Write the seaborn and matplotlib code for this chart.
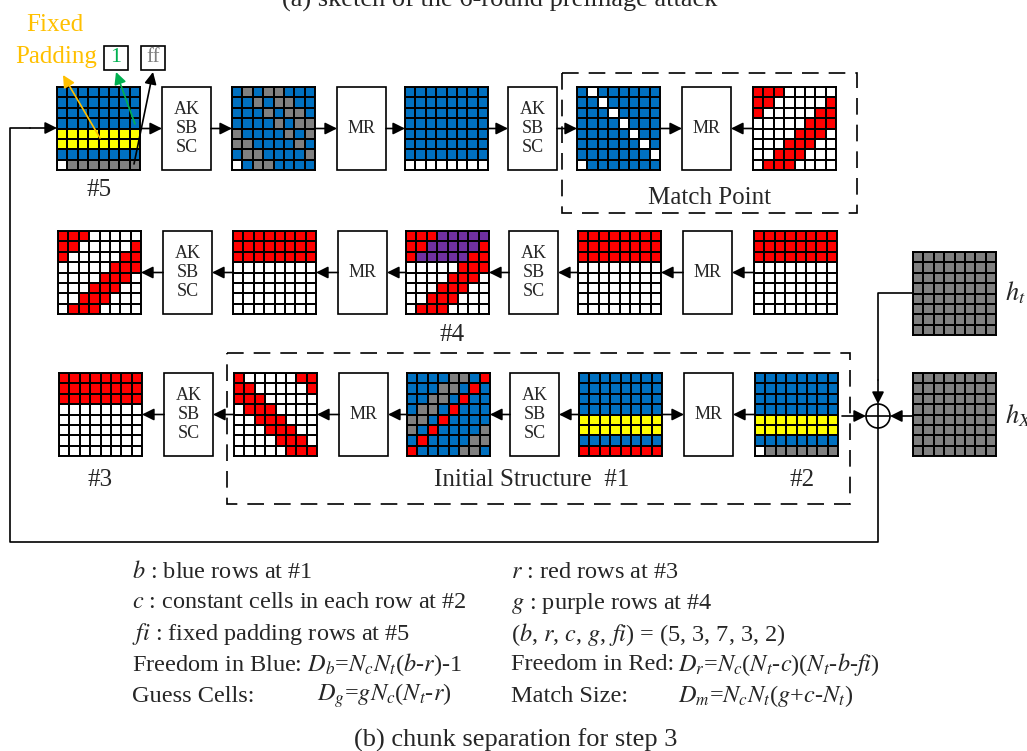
import numpy as np
import matplotlib
matplotlib.use("Agg")
import matplotlib.pyplot as plt
import seaborn as sns
from matplotlib.colors import ListedColormap
from matplotlib.patches import Rectangle, Circle

############################################################################
# DATA: 8x8 states, one letter per cell
# W white, B blue, G gray, Y yellow (fixed padding), R red, P purple
############################################################################

cell_codes = "WBGYRP"
cell_colors = ["#FFFFFF", "#0070C0", "#808080", "#FFFF00", "#FF0000", "#7030A0"]

# row 1 (forward, #5 -> match point)
state_5 = ["BBBBBBBB", "BBBBBBBB", "BBBBBBBB", "BBBBBBBB",
           "YYYYYYYY", "YYYYYYYY", "BBBBBBBB", "WGGGGGGG"]
state_5_sc = ["BGBGGBBB", "BBGBGGBB", "BBBGBGGB", "BBBBGBGG",
              "GBBBBGBG", "GGBBBBGB", "BGGBBBBG", "WBGGBBBB"]
state_5_mr = ["BBBBBBBB", "BBBBBBBB", "BBBBBBBB", "BBBBBBBB",
              "BBBBBBBB", "BBBBBBBB", "BBBBBBBB", "WWWWWWWW"]
state_mp_blue = ["BWBBBBBB", "BBWBBBBB", "BBBWBBBB", "BBBBWBBB",
                 "BBBBBWBB", "BBBBBBWB", "BBBBBBBW", "WBBBBBBB"]
state_mp_red = ["RRRWWWWW", "RRWWWWWR", "RWWWWWRR", "WWWWWRRR",
                "WWWWRRRW", "WWWRRRWW", "WWRRRWWW", "WRRRWWWW"]

# row 2 (backward, #4)
state_4_sc = ["RRRWWWWW", "RRWWWWWR", "RWWWWWRR", "WWWWWRRR",
              "WWWWRRRW", "WWWRRRWW", "WWRRRWWW", "WRRRWWWW"]
state_4_mr = ["RRRRRRRR", "RRRRRRRR", "RRRRRRRR", "WWWWWWWW",
              "WWWWWWWW", "WWWWWWWW", "WWWWWWWW", "WWWWWWWW"]
state_4 = ["RRRPPPPP", "RRPPPPPR", "RPPPPPRR", "WWWWWRRR",
           "WWWWRRRW", "WWWRRRWW", "WWRRRWWW", "WRRRWWWW"]
state_4_in = ["RRRRRRRR", "RRRRRRRR", "RRRRRRRR", "WWWWWWWW",
              "WWWWWWWW", "WWWWWWWW", "WWWWWWWW", "WWWWWWWW"]
state_4_top = ["RRRRRRRR", "RRRRRRRR", "RRRRRRRR", "WWWWWWWW",
               "WWWWWWWW", "WWWWWWWW", "WWWWWWWW", "WWWWWWWW"]

# row 3 (initial structure, #3 #1 #2)
state_3 = ["RRRRRRRR", "RRRRRRRR", "RRRRRRRR", "WWWWWWWW",
           "WWWWWWWW", "WWWWWWWW", "WWWWWWWW", "WWWWWWWW"]
state_1_red = ["RWWWWWRR", "RRWWWWWR", "RRRWWWWW", "WRRRWWWW",
               "WWRRRWWW", "WWWRRRWW", "WWWWRRRW", "WWWWWRRR"]
state_1_sc = ["BBBBGGBR", "BBBGGBRB", "BBGGBRBB", "BGGBRBBB",
              "GGBRBBBB", "GBRBBBBG", "BRBBBBGG", "RBBBBGGB"]
state_1 = ["BBBBBBBB", "BBBBBBBB", "BBBBBBBB", "BBBBBBBB",
           "YYYYYYYY", "YYYYYYYY", "BBBBBBBB", "RRRRRRRR"]
state_2 = ["BBBBBBBB", "BBBBBBBB", "BBBBBBBB", "BBBBBBBB",
           "YYYYYYYY", "YYYYYYYY", "BBBBBBBB", "WGGGGGGG"]

# chaining values
h_t = ["GGGGGGGG"] * 8
h_x = ["GGGGGGGG"] * 8

# chunk separation parameters
b, r, c, g, fi = 5, 3, 7, 3, 2

row_states = [
	[state_5, state_5_sc, state_5_mr, state_mp_blue, state_mp_red],
	[state_4_sc, state_4_mr, state_4, state_4_in, state_4_top],
	[state_3, state_1_red, state_1_sc, state_1, state_2],
]
row_boxes = ["AK\nSB\nSC", "MR", "AK\nSB\nSC", "MR"]
# arrow direction for each gap between the 9 elements of a row
row_dirs = [
	["r", "r", "r", "r", "r", "r", "r", "l"],
	["l", "l", "l", "l", "l", "l", "l", "l"],
	["l", "l", "l", "l", "l", "l", "r", "l"],
]

############################################################################
# LAYOUT (pixels)
############################################################################

W, H = 1027, 751
grid_x = [57, 232, 405, 577, 753]
box_x = [162, 337, 508, 682]
row_top = [87, 231, 373]
row_dx = [0, 1, 2]
gsize = 83
box_w = 49

serif = ["Liberation Serif", "DejaVu Serif"]

def config_sns():
	sns.set_theme(style="white")
	plt.rcParams["font.family"] = serif
	plt.rcParams["mathtext.fontset"] = "stix"

cmap = ListedColormap(cell_colors)

def draw_grid(fig, rows, x, y, size=gsize):
	ax = fig.add_axes([x / W, 1 - (y + size) / H, size / W, size / H])
	data = np.array([[cell_codes.index(ch) for ch in row] for row in rows])
	sns.heatmap(data, ax=ax, cmap=cmap, vmin=-0.5, vmax=5.5, cbar=False,
				linewidths=1.3, linecolor="black",
				xticklabels=False, yticklabels=False)
	for s in ax.spines.values():
		s.set_visible(True)
		s.set_linewidth(1.4)
		s.set_color("black")
	return ax

def arrow(ax, x0, y0, x1, y1, color="black", lw=1.2):
	ax.annotate("", xy=(x1, y1), xytext=(x0, y0),
				arrowprops=dict(arrowstyle="-|>", color=color, lw=lw,
								mutation_scale=18, shrinkA=0, shrinkB=0))

def main():
	config_sns()
	fig = plt.figure(figsize=(W / 100, H / 100), dpi=100)
	fig.patch.set_facecolor("white")

	main_ax = fig.add_axes([0, 0, 1, 1])
	main_ax.set_xlim(0, W)
	main_ax.set_ylim(H, 0)
	main_ax.axis("off")
	main_ax.set_zorder(10)
	main_ax.patch.set_alpha(0)

	# the three rows of states
	for ri in range(3):
		top = row_top[ri]
		dx = row_dx[ri]
		cy = top + gsize / 2
		spans = []
		for k in range(9):
			if k % 2 == 0:
				x0 = grid_x[k // 2] + dx
				draw_grid(fig, row_states[ri][k // 2], x0, top)
				spans.append((x0, x0 + gsize))
			else:
				x0 = box_x[k // 2] + dx
				main_ax.add_patch(Rectangle((x0, top), box_w, gsize, fill=False,
											lw=1.2, ec="black"))
				main_ax.text(x0 + box_w / 2, cy, row_boxes[k // 2], ha="center",
							 va="center", fontsize=13, linespacing=1.15)
				spans.append((x0, x0 + box_w))
		for k in range(8):
			if row_dirs[ri][k] == "r":
				arrow(main_ax, spans[k][1], cy, spans[k + 1][0], cy)
			else:
				arrow(main_ax, spans[k + 1][0], cy, spans[k][1], cy)

	# chaining values
	draw_grid(fig, h_t, 913, 252)
	draw_grid(fig, h_x, 913, 373)
	main_ax.text(1005, 293, r"$h_t$", fontsize=19, va="center", ha="left")
	main_ax.text(1005, 416, r"$h_X$", fontsize=19, va="center", ha="left")

	# xor and feedback lines
	xc, yc, rad = 878, 416, 12
	main_ax.add_patch(Circle((xc, yc), rad, fill=False, lw=1.2, ec="black"))
	main_ax.plot([xc - rad, xc + rad], [yc, yc], color="black", lw=1.2)
	main_ax.plot([xc, xc], [yc - rad, yc + rad], color="black", lw=1.2)
	arrow(main_ax, 842, yc, xc - rad, yc)
	arrow(main_ax, 913, yc, xc + rad, yc)
	main_ax.plot([913, xc, xc], [293, 293, 380], color="black", lw=1.2)
	arrow(main_ax, xc, 380, xc, yc - rad)
	main_ax.plot([xc, xc, 10, 10, 30], [yc + rad, 542, 542, 128, 128],
				 color="black", lw=1.2)
	arrow(main_ax, 30, 128, 57, 128)

	# dashed regions
	dash = (0, (10, 6))
	main_ax.add_patch(Rectangle((562, 73), 295, 140, fill=False, lw=1.2,
								ec="black", ls=dash))
	main_ax.add_patch(Rectangle((227, 353), 623, 151, fill=False, lw=1.2,
								ec="black", ls=dash))
	main_ax.text(710, 198, "Match Point", fontsize=18, ha="center", va="center")
	main_ax.text(532, 480, "Initial Structure  #1", fontsize=18, ha="center", va="center")
	main_ax.text(802, 480, "#2", fontsize=18, ha="center", va="center")
	main_ax.text(99, 190, "#5", fontsize=18, ha="center", va="center")
	main_ax.text(452, 335, "#4", fontsize=18, ha="center", va="center")
	main_ax.text(100, 480, "#3", fontsize=18, ha="center", va="center")

	# fixed padding annotations
	main_ax.text(55, 25, "Fixed", fontsize=18, color="#FFC000", ha="center", va="center")
	main_ax.text(56, 57, "Padding", fontsize=18, color="#FFC000", ha="center", va="center")
	main_ax.add_patch(Rectangle((104, 46), 24, 24, fill=False, lw=1.2, ec="black"))
	main_ax.text(116, 58, "1", fontsize=16, color="#00B050", ha="center", va="center")
	main_ax.add_patch(Rectangle((141, 46), 24, 24, fill=False, lw=1.2, ec="black"))
	main_ax.text(153, 57, "ff", fontsize=15, color="#808080", ha="center", va="center")
	arrow(main_ax, 100, 138, 63, 75, color="#FFC000")
	arrow(main_ax, 135, 124, 116, 72, color="#00B050")
	arrow(main_ax, 134, 164, 153, 72, color="black")

	# captions
	main_ax.text(500, 7, "(a) sketch of the 6-round preimage attack", fontsize=19,
				 ha="center", va="baseline")
	main_ax.text(516, 740, "(b) chunk separation for step 3", fontsize=19,
				 ha="center", va="center")

	# legend text
	fs = 17.5
	ys = [572, 603, 634, 665, 696]
	left = [r"$b$ : blue rows at #1",
			r"$c$ : constant cells in each row at #2",
			r"$fi$ : fixed padding rows at #5",
			r"Freedom in Blue: $D_b$=$N_cN_t$($b$-$r$)-1",
			r"Guess Cells:"]
	right = [r"$r$ : red rows at #3",
			 r"$g$ : purple rows at #4",
			 r"($b$, $r$, $c$, $g$, $fi$) = ({}, {}, {}, {}, {})".format(b, r, c, g, fi),
			 r"Freedom in Red:",
			 r"Match Size:"]
	for y, t in zip(ys, left):
		main_ax.text(132, y, t, fontsize=fs, ha="left", va="center")
	for y, t in zip(ys, right):
		main_ax.text(511, y, t, fontsize=fs, ha="left", va="center")
	main_ax.text(317, ys[4], r"$D_g$=$gN_c$($N_t$-$r$)", fontsize=fs, ha="left", va="center")
	main_ax.text(678, ys[3], r"$D_r$=$N_c$($N_t$-$c$)($N_t$-$b$-$fi$)", fontsize=fs,
				 ha="left", va="center")
	main_ax.text(678, ys[4], r"$D_m$=$N_cN_t$($g$+$c$-$N_t$)", fontsize=fs,
				 ha="left", va="center")

	fig.savefig("out.png", dpi=100)

if __name__ == "__main__":
	main()
